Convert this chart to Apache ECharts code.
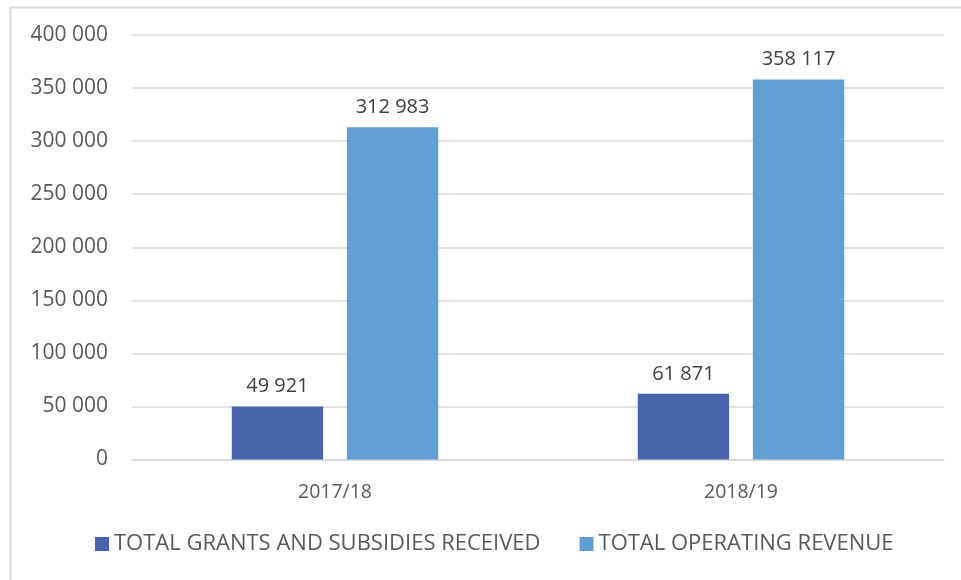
<!DOCTYPE html>
<html>
<head>
<meta charset="utf-8">
<script src="https://cdn.jsdelivr.net/npm/echarts@6/dist/echarts.min.js"></script>
<style>
html,body{margin:0;padding:0;background:#fff;}
#chart{width:961px;height:580px;}
</style>
</head>
<body>
<div id="chart"></div>
<script>
const categories = ['2017/18', '2018/19'];
const seriesNames = ['TOTAL GRANTS AND SUBSIDIES RECEIVED', 'TOTAL OPERATING REVENUE'];
const grantsValues = [49921, 61871];
const revenueValues = [312983, 358117];
const yTicks = [0, 50000, 100000, 150000, 200000, 250000, 300000, 350000, 400000];

function fmt(v) {
  return String(v).replace(/\B(?=(\d{3})+(?!\d))/g, ' ');
}

const FONT = '"Open Sans", sans-serif';
const chart = echarts.init(document.getElementById('chart'), null, {renderer: 'canvas'});
chart.setOption({
  animation: false,
  backgroundColor: '#ffffff',
  textStyle: {fontFamily: FONT},
  graphic: [{
    type: 'rect',
    left: 8, top: 5,
    shape: {width: 1000, height: 1000},
    style: {fill: 'none', stroke: '#d9d9d9', lineWidth: 2},
    silent: true
  }],
  grid: {left: 132, right: 17, top: 35, bottom: 120.5, containLabel: false},
  legend: {
    left: 90, top: 528,
    itemWidth: 14, itemHeight: 14, itemGap: 39,
    icon: 'rect',
    textStyle: {color: '#595959', fontSize: 22, fontFamily: FONT},
    data: seriesNames
  },
  xAxis: {
    type: 'category',
    data: categories,
    axisLine: {lineStyle: {color: '#d9d9d9', width: 1.5}},
    axisTick: {show: false},
    axisLabel: {color: '#595959', fontSize: 19.5, margin: 23, fontFamily: FONT}
  },
  yAxis: {
    type: 'value',
    min: yTicks[0], max: yTicks[yTicks.length - 1], interval: 50000,
    axisLine: {show: false},
    axisTick: {show: false},
    splitLine: {lineStyle: {color: '#d9d9d9', width: 1.5}},
    axisLabel: {color: '#595959', fontSize: 21, margin: 24, fontFamily: FONT, formatter: fmt}
  },
  series: [
    {
      name: seriesNames[0], type: 'bar', data: grantsValues,
      barWidth: '22.5%', barGap: '26%',
      itemStyle: {color: '#4864ac'},
      label: {show: true, position: 'top', distance: 10, color: '#404040', fontSize: 20, fontFamily: FONT, formatter: p => fmt(p.value)}
    },
    {
      name: seriesNames[1], type: 'bar', data: revenueValues,
      barWidth: '22.5%', barGap: '26%',
      itemStyle: {color: '#619ed3'},
      label: {show: true, position: 'top', distance: 10, color: '#404040', fontSize: 20, fontFamily: FONT, formatter: p => fmt(p.value)}
    }
  ]
});
</script>
</body>
</html>
